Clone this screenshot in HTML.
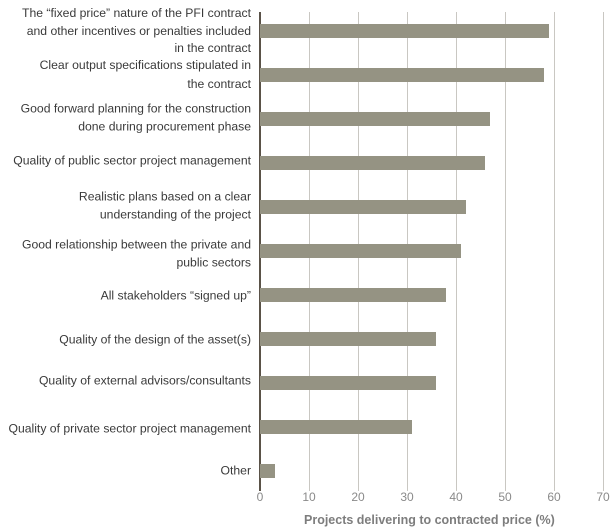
<!DOCTYPE html>
<html><head><style>
body{margin:0;width:610px;height:531px;background:#fff;position:relative;overflow:hidden;font-family:"Liberation Sans",sans-serif;}
.l{position:absolute;right:359px;width:260px;text-align:right;font-size:12.2px;color:#3a3a3a;line-height:17.5px;transform:translateY(-50%);}
.g{position:absolute;top:12px;height:479px;width:1px;background:#c9c7c2;}
.b{position:absolute;left:260px;height:14px;background:#959383;}
.t{position:absolute;top:490px;font-size:12px;color:#8a8a8a;width:30px;margin-left:-15px;text-align:center;}
</style></head><body>
<div class="g" style="left:309px"></div><div class="g" style="left:358px"></div><div class="g" style="left:407px"></div><div class="g" style="left:456px"></div><div class="g" style="left:505px"></div><div class="g" style="left:554px"></div><div class="g" style="left:603px"></div>
<div style="position:absolute;left:259px;top:12px;width:1.5px;height:479px;background:#5a5248"></div>
<div class="b" style="top:24px;width:289px"></div>
<div class="b" style="top:68px;width:284px"></div>
<div class="b" style="top:112px;width:230px"></div>
<div class="b" style="top:156px;width:225px"></div>
<div class="b" style="top:200px;width:206px"></div>
<div class="b" style="top:244px;width:201px"></div>
<div class="b" style="top:288px;width:186px"></div>
<div class="b" style="top:332px;width:176px"></div>
<div class="b" style="top:376px;width:176px"></div>
<div class="b" style="top:420px;width:152px"></div>
<div class="b" style="top:464px;width:15px"></div>
<div class="l" style="top:31px">The “fixed price” nature of the PFI contract<br>and other incentives or penalties included<br>in the contract</div>
<div class="l" style="top:75px;line-height:19px">Clear output specifications stipulated in<br>the contract</div>
<div class="l" style="top:118px">Good forward planning for the construction<br>done during procurement phase</div>
<div class="l" style="top:161px">Quality of public sector project management</div>
<div class="l" style="top:206px">Realistic plans based on a clear<br>understanding of the project</div>
<div class="l" style="top:254px">Good relationship between the private and<br>public sectors</div>
<div class="l" style="top:296px">All stakeholders “signed up”</div>
<div class="l" style="top:340px">Quality of the design of the asset(s)</div>
<div class="l" style="top:381px">Quality of external advisors/consultants</div>
<div class="l" style="top:429px">Quality of private sector project management</div>
<div class="l" style="top:471px">Other</div>
<div class="t" style="left:260px">0</div><div class="t" style="left:309px">10</div><div class="t" style="left:358px">20</div><div class="t" style="left:407px">30</div><div class="t" style="left:456px">40</div><div class="t" style="left:505px">50</div><div class="t" style="left:554px">60</div><div class="t" style="left:603px">70</div>
<div style="position:absolute;left:304px;top:513px;font-size:12.5px;font-weight:bold;color:#7d7d7d">Projects delivering to contracted price (%)</div>
</body></html>
